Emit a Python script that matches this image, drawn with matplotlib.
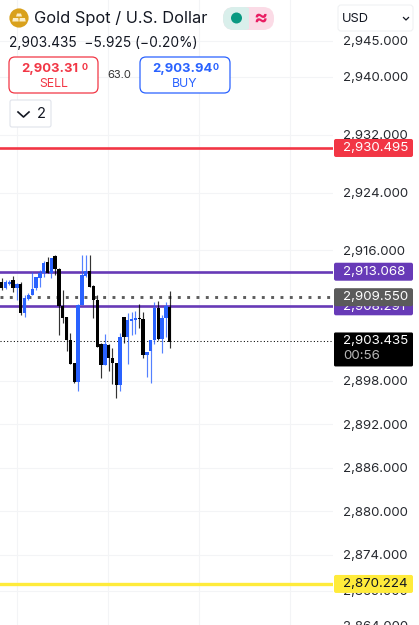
import matplotlib
matplotlib.use("Agg")
import matplotlib.pyplot as plt
from matplotlib.patches import FancyBboxPatch, Rectangle, Circle, Polygon

plt.rcParams['font.family'] = ['Inter', 'DejaVu Sans']

# ---------- data ----------
opens = [2911.60, 2910.87, 2911.33, 2911.93, 2910.87, 2911.37, 2907.32, 2909.30, 2909.85, 2910.77,
         2912.16, 2912.85, 2914.37, 2912.85, 2915.24, 2913.45, 2908.38, 2906.86, 2903.64, 2900.42,
         2897.79, 2908.47, 2912.52, 2913.17, 2911.14, 2909.16, 2903.04, 2900.19, 2902.95, 2901.11,
         2900.42, 2897.42, 2906.86, 2904.10, 2906.26, 2906.40, 2906.72, 2906.54, 2901.57, 2902.12,
         2903.64, 2908.01, 2903.78, 2906.72, 2908.24]
closes = [2910.87, 2911.60, 2911.70, 2910.77, 2911.33, 2907.32, 2909.49, 2909.85, 2910.68, 2912.29,
          2912.85, 2914.23, 2912.85, 2914.92, 2913.45, 2908.38, 2906.72, 2903.64, 2900.28, 2897.79,
          2908.47, 2912.62, 2913.17, 2911.00, 2909.16, 2902.72, 2900.19, 2903.04, 2901.11, 2900.42,
          2897.42, 2904.10, 2904.10, 2906.40, 2906.54, 2906.72, 2906.54, 2901.57, 2902.03, 2903.64,
          2908.01, 2903.78, 2906.72, 2908.38, 2903.41]
highs = [2912.16, 2911.93, 2911.93, 2912.52, 2911.47, 2911.70, 2909.85, 2910.08, 2912.98, 2912.39,
         2913.31, 2914.55, 2915.15, 2915.01, 2915.38, 2913.63, 2910.54, 2906.86, 2904.56, 2900.42,
         2908.56, 2915.38, 2915.38, 2915.38, 2911.24, 2909.85, 2903.18, 2904.42, 2903.04, 2902.49,
         2900.42, 2904.56, 2906.86, 2907.32, 2907.55, 2907.64, 2908.56, 2907.55, 2902.03, 2903.64,
         2908.93, 2909.03, 2907.09, 2908.93, 2910.41]
lows = [2910.54, 2910.68, 2911.24, 2910.31, 2909.16, 2907.09, 2906.86, 2909.16, 2909.85, 2910.54,
        2911.00, 2912.39, 2912.85, 2912.16, 2912.62, 2904.33, 2905.94, 2902.12, 2900.28, 2897.65,
        2896.59, 2908.47, 2912.39, 2911.00, 2906.63, 2902.72, 2898.34, 2900.19, 2899.36, 2897.52,
        2895.58, 2896.59, 2903.18, 2900.28, 2904.33, 2904.42, 2905.34, 2901.20, 2898.57, 2897.65,
        2903.04, 2903.64, 2901.80, 2904.10, 2902.49]

tick_values = [2945, 2940, 2932, 2924, 2916, 2898, 2892, 2886, 2880, 2874, 2869]
time_grid = [4, 27.8, 51.65, 75.5]
clipped_tick = 2864

red_level, red_label = 2930.16, "2,930.495"
purple_levels = [2913.068, 2908.291]
purple_labels = ["2,913.068", "2,908.291"]
avg_level, avg_label = 2909.55, "2,909.550"
last_price, last_label, countdown = 2903.435, "2,903.435", "00:56"
yellow_level, yellow_label = 2869.94, "2,870.224"

RED, BLUE, PURPLE, YELLOW = '#f23645', '#2962ff', '#673ab7', '#ffeb3b'
INK = '#131722'

# ---------- figure ----------
W, H = 419, 625
fig = plt.figure(figsize=(W / 100, H / 100), dpi=100, facecolor='white')
ax = fig.add_axes([0, 0, 333 / W, 1])
ax.set_xlim(-0.445, 86.73)
ax.set_ylim(2864.27, 2950.6)
for s in ax.spines.values():
    s.set_visible(False)
ax.set_xticks([])
ax.yaxis.tick_right()
ax.set_yticks(tick_values)
ax.set_yticklabels([f"{v:,.3f}" for v in tick_values], fontsize=9.5, color='#26292f')
ax.tick_params(axis='y', length=0, pad=7)
for v in tick_values:
    ax.axhline(v, color='#f3f4f6', lw=0.8, zorder=0)
for v in time_grid:
    ax.axvline(v, color='#f3f4f6', lw=0.8, zorder=0)

# price levels
ax.axhline(red_level, color=RED, lw=1.9, zorder=1)
for v in purple_levels:
    ax.axhline(v, color=PURPLE, lw=1.9, zorder=1)
ax.axhline(yellow_level, color=YELLOW, lw=2.4, zorder=1)
ax.axhline(avg_level, color='#5d5d5d', lw=2.1, ls=(0, (1, 2.2)), zorder=1)
ax.axhline(last_price, color='#000000', lw=0.75, ls=(0, (1, 2.2)), zorder=1)

# candles
xs = list(range(len(opens)))
cols = [BLUE if c >= o else '#000000' for o, c in zip(opens, closes)]
ax.vlines(xs, lows, highs, colors=cols, lw=0.85, alpha=0.8, zorder=3)
ax.bar(xs, [abs(c - o) for o, c in zip(opens, closes)],
       bottom=[min(o, c) for o, c in zip(opens, closes)],
       width=0.88, color=cols, linewidth=0, zorder=4)

# ---------- overlay in pixels ----------
ui = fig.add_axes([0, 0, 1, 1], zorder=5)
ui.set_xlim(0, W)
ui.set_ylim(H, 0)
ui.axis('off')
ui.patch.set_alpha(0)


def box(x0, y0, x1, y1, fc, ec='none', lw=0.8, r=2, z=2):
    ui.add_patch(FancyBboxPatch((x0 + r, y0 + r), x1 - x0 - 2 * r, y1 - y0 - 2 * r,
                                boxstyle=f"round,pad={r},rounding_size={r}",
                                fc=fc, ec=ec, lw=lw, zorder=z))


def py(price):
    return H - ax.transData.transform((0, price))[1]


def label(price, txt, fc, tc='white', z=3):
    y = py(price)
    box(334, y - 9, 413, y + 9, fc, z=z)
    ui.text(343, y + 0.3, txt, color=tc, fontsize=9.6, va='center', ha='left', zorder=z + 0.1)


# tick partly cut by the bottom edge
ui.text(343, py(clipped_tick), f"{clipped_tick:,.3f}", color='#26292f', fontsize=9.5, va='center',
        ha='left', zorder=1, clip_on=True)

label(red_level, red_label, RED)
label(purple_levels[0], purple_labels[0], PURPLE)
label(purple_levels[1], purple_labels[1], PURPLE, z=3)
label(avg_level, avg_label, '#5b5b5b', z=4)
label(yellow_level, yellow_label, '#ffeb3b', tc=INK)

y_last = py(last_price)
box(334, y_last - 9, 413, y_last + 25, '#000000', r=1.5, z=3)
ui.text(343, y_last, last_label, color='white', fontsize=9.6, va='center', zorder=3.1)
ui.text(343, y_last + 15, countdown, color='#b8b8b8', fontsize=9.6, va='center', zorder=3.1)

# header
ui.add_patch(Circle((19, 18), 9.6, fc='#d9a11c', ec='none', zorder=3))
ui.add_patch(Polygon([[17, 13.5], [21, 13.5], [22, 16.5], [16, 16.5]], fc='#fbeec8', ec='none', zorder=4))
ui.add_patch(Polygon([[13, 18], [18.3, 18], [18.7, 21.5], [12.3, 21.5]], fc='#fbeec8', ec='none', zorder=4))
ui.add_patch(Polygon([[19.7, 18], [25, 18], [25.7, 21.5], [19.3, 21.5]], fc='#fbeec8', ec='none', zorder=4))
ui.text(34, 18.5, "Gold Spot / U.S. Dollar", color=INK, fontsize=11.8, va='center', zorder=4)

box(223, 7, 274, 30, '#fbdbe6', r=11, z=3)
ui.add_patch(FancyBboxPatch((234, 18), 10, 1, boxstyle="round,pad=11,rounding_size=11",
                            fc='#d9efeb', ec='none', zorder=3.1, clip_on=True))
ui.add_patch(Rectangle((248.5, 7), 15, 23, fc='#fbdbe6', ec='none', zorder=3.2))
ui.add_patch(Circle((236.5, 18), 5.5, fc='#089981', ec='none', zorder=4))
ui.text(260, 18, "≈", color='#e91e63', fontsize=15, fontweight='bold', ha='center', va='center', zorder=4)

box(338, 5, 413, 31, 'white', ec='#f0f1f3', lw=0.8, r=3, z=3)
ui.text(342, 18.5, "USD", color=INK, fontsize=9.2, va='center', zorder=4)
ui.plot([403.5, 406, 408.5], [17.5, 20, 17.5], color=INK, lw=0.9, zorder=4)

ui.text(9, 42.5, "2,903.435  −5.925 (−0.20%)", color=INK, fontsize=9.9, va='center', zorder=4)

box(9, 57, 98, 93, 'white', ec=RED, lw=0.9, r=6, z=3)
ui.text(21, 69, "2,903.31", color=RED, fontsize=9.4, fontweight='bold', va='center', zorder=4)
ui.text(81.5, 67, "0", color=RED, fontsize=6.5, fontweight='bold', va='center', zorder=4)
ui.text(53.5, 84, "SELL", color=RED, fontsize=8.8, ha='center', va='center', zorder=4)
ui.text(119.5, 75.5, "63.0", color='#333333', fontsize=8, ha='center', va='center', zorder=4)
box(140, 57, 230, 93, 'white', ec=BLUE, lw=0.9, r=6, z=3)
ui.text(152, 69, "2,903.94", color=BLUE, fontsize=9.4, fontweight='bold', va='center', zorder=4)
ui.text(212.5, 67, "0", color=BLUE, fontsize=6.5, fontweight='bold', va='center', zorder=4)
ui.text(185, 84, "BUY", color=BLUE, fontsize=8.8, ha='center', va='center', zorder=4)

box(10, 100, 51, 127, 'white', ec='#e0e3eb', lw=0.8, r=2, z=3)
ui.plot([18, 23.5, 29], [112, 117, 112], color=INK, lw=1.2, zorder=4)
ui.text(41, 114.5, "2", color=INK, fontsize=10.5, ha='center', va='center', zorder=4)

fig.savefig("out.png", dpi=100, facecolor='white')
